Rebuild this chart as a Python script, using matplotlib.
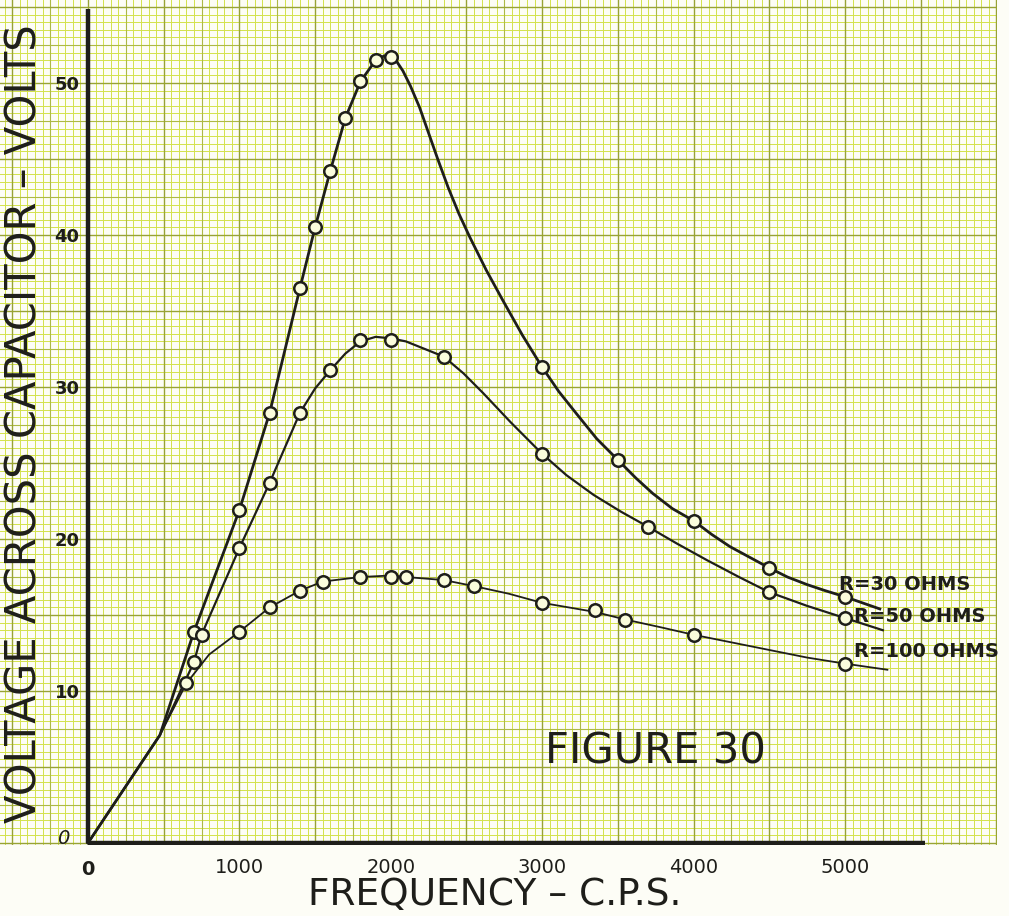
import matplotlib
matplotlib.use('Agg')

import matplotlib.pyplot as plt
import numpy as np

# ---- data (frequency in c.p.s., volts) ----
# traced points along each hand-drawn curve
r30_curve_f = [0, 475, 700, 1000, 1200, 1400, 1500, 1600, 1700, 1800, 1900, 1960, 2000,
               2040, 2080, 2130, 2190, 2250, 2310, 2380, 2450, 2520, 2630, 2740, 2870,
               3000, 3110, 3230, 3360, 3500, 3620, 3730, 3860, 4000, 4120, 4240, 4370,
               4500, 4620, 4750, 4870, 5000, 5230]
r30_curve_v = [0, 7.1, 13.9, 21.9, 28.3, 36.5, 40.5, 44.2, 47.7, 50.1, 51.5, 51.8, 51.7,
               51.4, 50.8, 49.8, 48.4, 46.7, 45.0, 43.1, 41.4, 39.9, 37.7, 35.7, 33.4,
               31.3, 29.7, 28.2, 26.6, 25.2, 24.0, 23.0, 22.0, 21.2, 20.3, 19.5, 18.8,
               18.1, 17.5, 17.0, 16.6, 16.2, 15.4]

r50_curve_f = [0, 475, 700, 750, 1000, 1200, 1400, 1500, 1600, 1700, 1800, 1900, 2000,
               2100, 2200, 2350, 2480, 2610, 2790, 3000, 3160, 3340, 3520, 3700, 3890,
               4090, 4300, 4500, 4750, 5000, 5250]
r50_curve_v = [0, 7.1, 11.9, 13.7, 19.4, 23.7, 28.3, 29.9, 31.1, 32.2, 33.0, 33.3, 33.2,
               33.0, 32.6, 32.0, 30.9, 29.6, 27.7, 25.6, 24.2, 22.9, 21.8, 20.8, 19.7,
               18.6, 17.5, 16.5, 15.6, 14.8, 14.0]

r100_curve_f = [0, 475, 650, 800, 1000, 1200, 1400, 1550, 1800, 2000, 2100, 2350, 2550,
                2780, 3000, 3350, 3550, 3780, 4000, 4250, 4500, 4750, 5000, 5280]
r100_curve_v = [0, 7.1, 10.5, 12.4, 13.9, 15.5, 16.6, 17.2, 17.5, 17.6, 17.5, 17.3, 16.9,
                16.4, 15.8, 15.2, 14.7, 14.2, 13.7, 13.2, 12.7, 12.2, 11.8, 11.4]

# measured points (circles)
r30_f = [700, 1000, 1200, 1400, 1500, 1600, 1700, 1800, 1900, 2000, 3000, 3500, 4000, 4500, 5000]
r30_v = [13.9, 21.9, 28.3, 36.5, 40.5, 44.2, 47.7, 50.1, 51.5, 51.7, 31.3, 25.2, 21.2, 18.1, 16.2]

r50_f = [700, 750, 1000, 1200, 1400, 1600, 1800, 2000, 2350, 3000, 3700, 4500, 5000]
r50_v = [11.9, 13.7, 19.4, 23.7, 28.3, 31.1, 33.1, 33.1, 32.0, 25.6, 20.8, 16.5, 14.8]

r100_f = [650, 1000, 1200, 1400, 1550, 1800, 2000, 2100, 2350, 2550, 3000, 3350, 3550, 4000, 5000]
r100_v = [10.5, 13.9, 15.5, 16.6, 17.2, 17.5, 17.5, 17.5, 17.3, 16.9, 15.8, 15.3, 14.7, 13.7, 11.8]

x_ticks = [0, 1000, 2000, 3000, 4000, 5000]
y_ticks = [10, 20, 30, 40, 50]
series_labels = ['R=30 OHMS', 'R=50 OHMS', 'R=100 OHMS']

paper = '#fafcdc'
ink = '#1e1e1a'

fig = plt.figure(figsize=(10.09, 9.16), dpi=100, facecolor='#fdfdf6')
ax = fig.add_axes([0, 71 / 916, 997 / 1009, 845 / 916])
ax.set_facecolor(paper)
ax.set_xlim(-581, 6004)
ax.set_ylim(-0.13, 55.46)
ax.set_axis_off()

# graph paper: fine 50 / 0.5, medium 250 / 2.5, heavy 500 / 5
xs = np.arange(-550, 6001, 50)
ys = np.arange(0, 55.5, 0.5)
xt = ax.get_xaxis_transform()
yt = ax.get_yaxis_transform()
for x in np.round(xs).astype(int):
    if x % 500 == 0:
        c, lw, z = '#98a335', 1.0, 3
    elif x % 250 == 0:
        c, lw, z = '#adb944', 0.8, 2
    else:
        c, lw, z = '#d3e24c', 0.7, 1
    ax.plot([x, x], [0, 1], transform=xt, color=c, lw=lw, zorder=z)
for y in ys:
    k = int(round(y * 2))
    if k % 10 == 0:
        c, lw, z = '#98a335', 1.0, 3
    elif k % 5 == 0:
        c, lw, z = '#adb944', 0.8, 2
    else:
        c, lw, z = '#d3e24c', 0.7, 1
    ax.plot([0, 1], [y, y], transform=yt, color=c, lw=lw, zorder=z)

# axes drawn by hand
ax.plot([0, 0], [0, 54.9], color=ink, lw=3.2, solid_capstyle='butt', zorder=5)
ax.plot([0, 5530], [0, 0], color=ink, lw=3.2, solid_capstyle='butt', zorder=5)

# curves
ax.plot(r30_curve_f, r30_curve_v, color=ink, lw=2.0, zorder=6)
ax.plot(r50_curve_f, r50_curve_v, color=ink, lw=1.6, zorder=6)
ax.plot(r100_curve_f, r100_curve_v, color=ink, lw=1.3, zorder=6)

mk = dict(linestyle='none', marker='o', markersize=9, markerfacecolor=paper,
          markeredgecolor=ink, markeredgewidth=1.8, zorder=7)
ax.plot(r30_f, r30_v, **mk)
ax.plot(r50_f, r50_v, **mk)
ax.plot(r100_f, r100_v, **mk)

# tick labels
for x in x_ticks:
    if x == 0:
        ax.text(x, -1.75, '0', ha='center', va='center', fontsize=14,
                fontweight='bold', color=ink, clip_on=False)
    else:
        ax.text(x, -1.6, str(x), ha='center', va='center', fontsize=14,
                color=ink, clip_on=False)
for y in y_ticks:
    ax.text(-55, y - 0.1, str(y), ha='right', va='center', fontsize=13,
            fontweight='bold', color=ink)
ax.text(-165, 0.3, '0', ha='center', va='center', fontsize=14, style='italic',
        color=ink)

ax.text(-420, 27.6, 'VOLTAGE ACROSS CAPACITOR \u2013 VOLTS', rotation=90,
        ha='center', va='center', fontsize=30, color=ink)
ax.text(2688, -3.45, 'FREQUENCY \u2013 C.P.S.', ha='center', va='center',
        fontsize=27, color=ink, clip_on=False)
ax.text(3745, 6.0, 'FIGURE 30', ha='center', va='center', fontsize=30, color=ink)

label_x = [4960, 5060, 5060]
label_y = [17.0, 14.9, 12.6]
for lab, lx, ly in zip(series_labels, label_x, label_y):
    ax.text(lx, ly, lab, ha='left', va='center', fontsize=14, fontweight='bold',
            color=ink, clip_on=False, zorder=8)

fig.savefig('out.png', dpi=100, facecolor=fig.get_facecolor())
plt.close(fig)
